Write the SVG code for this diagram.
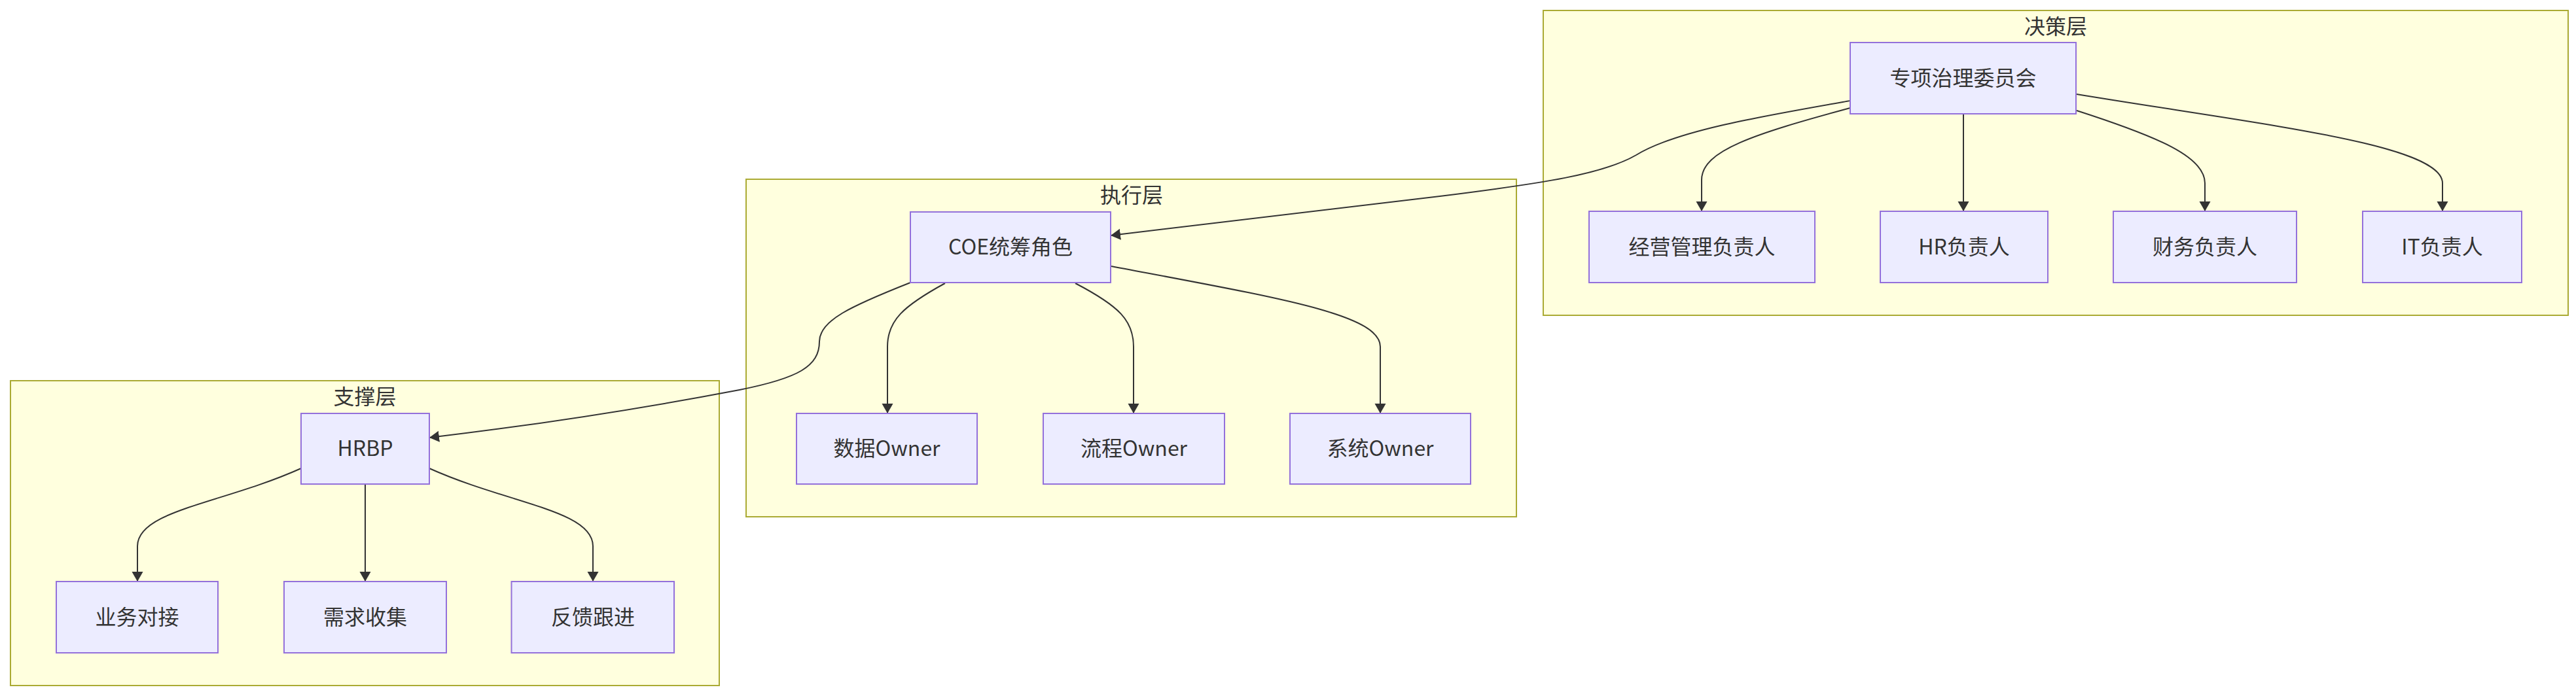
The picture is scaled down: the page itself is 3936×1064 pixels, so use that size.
<svg xmlns="http://www.w3.org/2000/svg" width="3936" height="1064" viewBox="0 0 3936 1064">
<defs>
<style>
.cluster rect{fill:#ffffde;stroke:#aaaa33;stroke-width:2}
.node rect{fill:#ECECFF;stroke:#9370DB;stroke-width:2}
text{font-family:"Noto Sans CJK SC","Noto Sans",sans-serif;font-size:32px;fill:#333333;text-anchor:middle}
.edges path{fill:none;stroke:#333333;stroke-width:2}
</style>
<marker id="arrow" markerUnits="userSpaceOnUse" markerWidth="16" markerHeight="18" refX="15" refY="8.5" orient="auto" viewBox="0 0 16 18">
<path d="M0,0 L15,8.5 L0,17 z" fill="#333333"/>
</marker>
</defs>
<rect x="0" y="0" width="3936" height="1064" fill="#ffffff"/>

<g id="cluster-decision" class="cluster">
<rect x="2358" y="16" width="1566" height="466"/>
<text x="3141" y="52">决策层</text>
</g>
<g id="cluster-execution" class="cluster">
<rect x="1140" y="274" width="1177" height="516"/>
<text x="1729" y="310">执行层</text>
</g>
<g id="cluster-support" class="cluster">
<rect x="16" y="582" width="1083" height="466"/>
<text x="557.5" y="618">支撑层</text>
</g>

<g class="edges" id="connectors">
<path d="M2827,154 C2690,178 2560,200 2500,237 C2450,266 2360,280 2200,300 L1697,360" marker-end="url(#arrow)"/>
<path d="M2827,165 C2680,205 2600,230 2600,275 L2600,323" marker-end="url(#arrow)"/>
<path d="M3000,174 L3000,323" marker-end="url(#arrow)"/>
<path d="M3173,169 C3300,210 3369,240 3369,280 L3369,323" marker-end="url(#arrow)"/>
<path d="M3173,144 C3450,190 3732,220 3732,280 L3732,323" marker-end="url(#arrow)"/>
<path d="M1391,432 C1300,468 1252,490 1252,522 C1252,560 1220,578 1130,596 Q900,640 656,669" marker-end="url(#arrow)"/>
<path d="M1444,433 C1380,468 1356,490 1356,530 L1356,632" marker-end="url(#arrow)"/>
<path d="M1643,433 C1710,468 1732,490 1732,530 L1732,632" marker-end="url(#arrow)"/>
<path d="M1698,407 C1950,455 2109,480 2109,530 L2109,632" marker-end="url(#arrow)"/>
<path d="M460,716 C340,770 210,780 210,835 L210,889" marker-end="url(#arrow)"/>
<path d="M558,740 L558,889" marker-end="url(#arrow)"/>
<path d="M656,716 C776,770 906,780 906,835 L906,889" marker-end="url(#arrow)"/>
</g>

<g id="node-committee" class="node"><rect x="2827" y="65" width="345" height="109"/><text x="2999.5" y="131">专项治理委员会</text></g>
<g id="node-ops" class="node"><rect x="2428" y="323" width="345" height="109"/><text x="2600.5" y="389">经营管理负责人</text></g>
<g id="node-hr" class="node"><rect x="2873" y="323" width="256" height="109"/><text x="3001" y="389">HR负责人</text></g>
<g id="node-finance" class="node"><rect x="3229" y="323" width="280" height="109"/><text x="3369" y="389">财务负责人</text></g>
<g id="node-it" class="node"><rect x="3610" y="323" width="243" height="109"/><text x="3731.5" y="389">IT负责人</text></g>

<g id="node-coe" class="node"><rect x="1391" y="324" width="306" height="108"/><text x="1544" y="389">COE统筹角色</text></g>
<g id="node-data" class="node"><rect x="1217" y="632" width="276" height="108"/><text x="1355" y="697">数据Owner</text></g>
<g id="node-process" class="node"><rect x="1594" y="632" width="277" height="108"/><text x="1732.5" y="697">流程Owner</text></g>
<g id="node-system" class="node"><rect x="1971" y="632" width="276" height="108"/><text x="2109" y="697">系统Owner</text></g>

<g id="node-hrbp" class="node"><rect x="460" y="632" width="196" height="108"/><text x="558" y="697">HRBP</text></g>
<g id="node-biz" class="node"><rect x="86" y="889" width="247" height="109"/><text x="209.5" y="955">业务对接</text></g>
<g id="node-req" class="node"><rect x="434" y="889" width="248" height="109"/><text x="558" y="955">需求收集</text></g>
<g id="node-feedback" class="node"><rect x="781.5" y="889" width="248.5" height="109"/><text x="906" y="955">反馈跟进</text></g>
</svg>
